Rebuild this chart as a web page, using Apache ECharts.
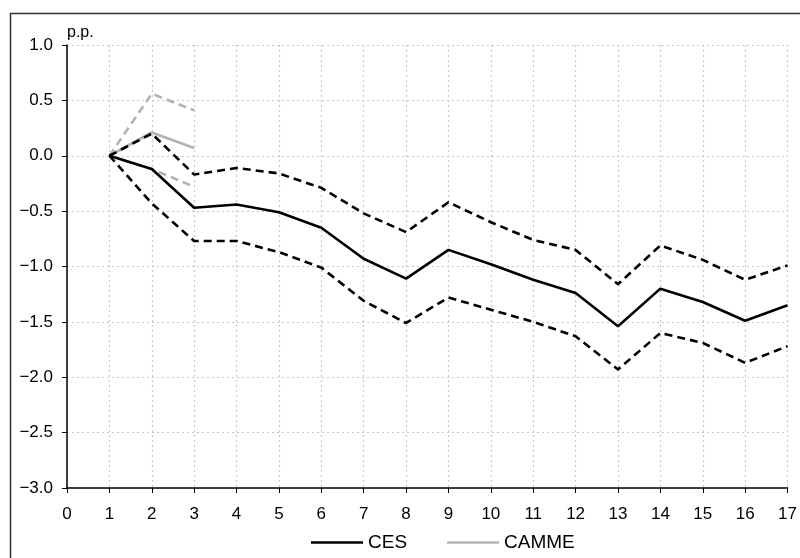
<!DOCTYPE html>
<html>
<head>
<meta charset="utf-8">
<script src="https://cdn.jsdelivr.net/npm/echarts@6/dist/echarts.min.js"></script>
<style>html,body{margin:0;padding:0;background:#fff;}#c{width:800px;height:558px;}</style>
</head>
<body>
<div id="c"></div>
<script>
var horizons = [1, 2, 3, 4, 5, 6, 7, 8, 9, 10, 11, 12, 13, 14, 15, 16, 17];
var cesMean  = [0, -0.12, -0.47, -0.44, -0.51, -0.65, -0.93, -1.11, -0.85, -0.98, -1.12, -1.24, -1.54, -1.20, -1.32, -1.49, -1.35];
var cesUpper = [0, 0.20, -0.17, -0.11, -0.16, -0.29, -0.52, -0.69, -0.42, -0.60, -0.76, -0.85, -1.16, -0.81, -0.94, -1.12, -0.99];
var cesLower = [0, -0.43, -0.77, -0.77, -0.87, -1.01, -1.31, -1.51, -1.28, -1.39, -1.50, -1.63, -1.93, -1.60, -1.69, -1.87, -1.72];
var cammeHorizons = [1, 2, 3];
var cammeMean  = [0, 0.21, 0.07];
var cammeUpper = [0, 0.56, 0.41];
var cammeLower = [0, -0.12, -0.28];
var yTicks = { min: -3.0, max: 1.0, step: 0.5 };
var xTicks = { min: 0, max: 17, step: 1 };

function pairs(xs, ys) { return xs.map(function (x, i) { return [x, ys[i]]; }); }

var FONT = '"Liberation Sans Narrow", "Arial Narrow", "Liberation Sans", Arial, sans-serif';
var BLACK = '#000000';
var GREY = '#b3b3b3';

function line(name, xs, ys, color, dashed) {
  return {
    name: name, type: 'line', data: pairs(xs, ys), symbol: 'none', silent: true,
    lineStyle: { color: color, width: 2.6, type: dashed ? [8, 5] : 'solid' },
    itemStyle: { color: color }
  };
}

var chart = echarts.init(document.getElementById('c'), null, { renderer: 'canvas' });
chart.setOption({
  animation: false,
  backgroundColor: '#ffffff',
  textStyle: { fontFamily: FONT },
  graphic: [{
    type: 'rect', shape: { x: 10.5, y: 13.5, width: 800, height: 560 },
    style: { fill: 'none', stroke: '#333333', lineWidth: 1.5 }, silent: true, z: -1
  }],
  grid: { left: 67, right: 10, top: 45, bottom: 70, containLabel: false },
  legend: {
    data: ['CES', 'CAMME'], top: 528, left: 306, icon: 'rect',
    itemWidth: 52, itemHeight: 2.5, itemGap: 40,
    textStyle: { fontFamily: FONT, fontSize: 19, color: '#000' }
  },
  xAxis: {
    type: 'value', min: xTicks.min, max: xTicks.max, interval: xTicks.step,
    axisLine: { onZero: false, lineStyle: { color: '#000', width: 1.5 } },
    axisTick: { show: true, length: 5, lineStyle: { color: '#000' } },
    axisLabel: { fontFamily: FONT, fontSize: 17, color: '#000', margin: 18 },
    splitLine: { show: true, lineStyle: { color: '#c8c8c8', type: [2, 3], width: 1.2 } }
  },
  yAxis: {
    type: 'value', min: yTicks.min, max: yTicks.max, interval: yTicks.step,
    name: 'p.p.', nameLocation: 'end', nameGap: 4,
    nameTextStyle: { fontFamily: FONT, fontSize: 16, color: '#000', align: 'left', padding: [0, 0, 0, 0] },
    axisLine: { show: true, lineStyle: { color: '#000', width: 1.5 } },
    axisTick: { show: true, length: 5, lineStyle: { color: '#000' } },
    axisLabel: {
      fontFamily: FONT, fontSize: 17, color: '#000', margin: 14,
      formatter: function (v) { return v.toFixed(1).replace('-', '\u2212'); }
    },
    splitLine: { show: true, lineStyle: { color: '#c8c8c8', type: [2, 3], width: 1.2 } }
  },
  series: [
    line('CAMME', cammeHorizons, cammeUpper, GREY, true),
    line('CAMME', cammeHorizons, cammeLower, GREY, true),
    line('CAMME', cammeHorizons, cammeMean, GREY, false),
    line('CES', horizons, cesUpper, BLACK, true),
    line('CES', horizons, cesLower, BLACK, true),
    line('CES', horizons, cesMean, BLACK, false)
  ]
});
</script>
</body>
</html>
